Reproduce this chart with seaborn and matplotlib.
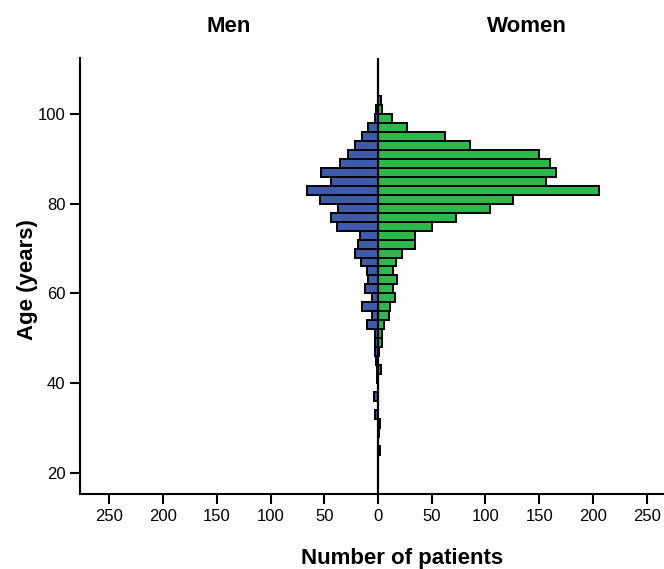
import numpy as np
import pandas as pd
import matplotlib
matplotlib.use('Agg')
import matplotlib.pyplot as plt
from matplotlib.ticker import FuncFormatter
import seaborn as sns

# 2-year age bins (lower edge), counts
age_start = [102, 100, 98, 96, 94, 92, 90, 88, 86, 84, 82, 80, 78, 76, 74, 72, 70,
             68, 66, 64, 62, 60, 58, 56, 54, 52, 50, 48, 46, 44, 42, 40, 38, 36,
             34, 32, 30, 28, 26, 24, 22]
men = [0, 2, 3, 9, 15, 21, 28, 35, 53, 44, 66, 54, 37, 44, 38, 17, 19,
       21, 16, 10, 9, 12, 6, 15, 6, 10, 3, 3, 3, 2, 1, 1, 0, 4,
       0, 3, 0, 0, 0, 0, 0]
women = [3, 4, 13, 27, 62, 86, 150, 160, 166, 156, 206, 126, 104, 73, 50, 34, 34,
         22, 17, 14, 18, 14, 16, 11, 10, 6, 4, 4, 1, 0, 3, 0, 0, 0,
         0, 0, 2, 1, 0, 2, 0]

df = pd.DataFrame({'age': np.array(age_start) + 1,
                   'men': -np.array(men), 'women': women})

sns.set_style('white')
plt.rcParams['font.family'] = ['Liberation Sans', 'DejaVu Sans']
plt.rcParams['text.color'] = 'black'

fig = plt.figure(figsize=(6.64, 5.69), dpi=100)
ax = fig.add_axes([80 / 664, 75 / 569, 596 / 664, 436 / 569])

sns.barplot(data=df, x='men', y='age', orient='h', native_scale=True, width=1.0,
            color='#3E5BAA', saturation=1, edgecolor='black', linewidth=1.4, ax=ax)
sns.barplot(data=df, x='women', y='age', orient='h', native_scale=True, width=1.0,
            color='#2DB84B', saturation=1, edgecolor='black', linewidth=1.4, ax=ax)
ax.axvline(0, color='black', lw=1.6, zorder=5)

ax.set_xlim(-277.3, 277.3)
ax.set_ylim(15.25, 112.5)
ax.set_xticks(range(-250, 251, 50))
ax.set_yticks(range(20, 101, 20))
ax.xaxis.set_major_formatter(FuncFormatter(lambda v, p: f'{abs(int(v))}'))
ax.tick_params(axis='both', direction='out', length=7.5, width=1.5,
               labelsize=12, colors='black', left=True, bottom=True, pad=3)
ax.set_xlabel('')
ax.set_ylabel('')
sns.despine(ax=ax)
for s in ['left', 'bottom']:
    ax.spines[s].set_linewidth(1.5)
    ax.spines[s].set_color('black')

fig.text(229 / 664, 1 - 31.7 / 569, 'Men', ha='center', va='baseline',
         fontsize=16, fontweight='bold', color='black')
fig.text(527 / 664, 1 - 31.7 / 569, 'Women', ha='center', va='baseline',
         fontsize=16, fontweight='bold', color='black')
fig.text(402 / 664, 1 - 564 / 569, 'Number of patients', ha='center', va='baseline',
         fontsize=16, fontweight='bold', color='black')
fig.text(27 / 664, 1 - 280 / 569, 'Age (years)', ha='center', va='center',
         rotation=90, fontsize=16, fontweight='bold', color='black')

fig.savefig('out.png', dpi=100)
